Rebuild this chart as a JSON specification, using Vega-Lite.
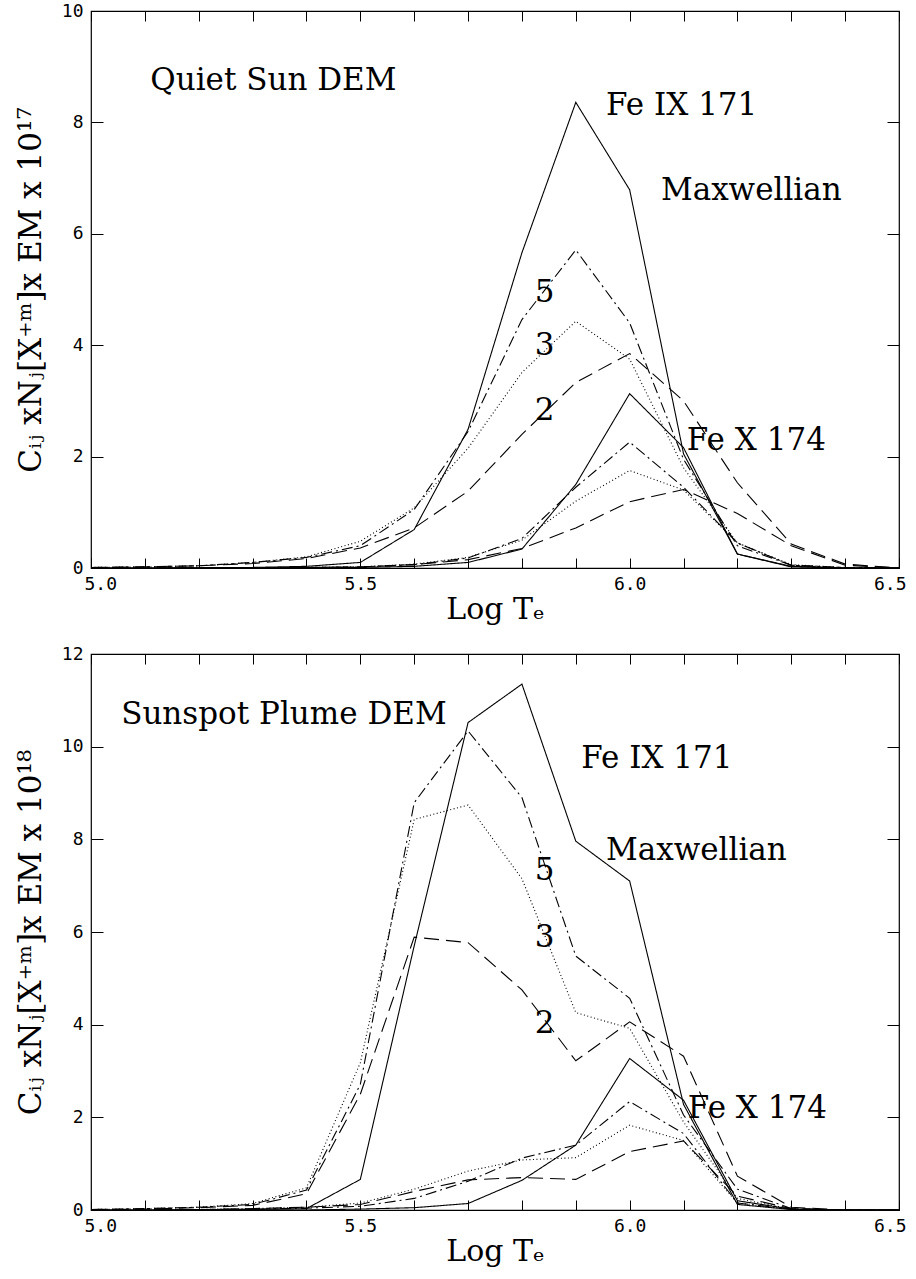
{
  "$schema": "https://vega.github.io/schema/vega-lite/v6.json",
  "background": "white",
  "padding": {"left": 14, "top": 1, "right": 0, "bottom": 5},
  "spacing": 86,
  "bounds": "flush",
  "config": {
    "view": {"stroke": "black", "strokeWidth": 1.2},
    "axis": {
      "domain": false, "grid": false,
      "tickColor": "black", "tickWidth": 1,
      "labelFont": "DejaVu Sans Mono", "labelFontSize": 18, "labelColor": "black",
      "titleFont": "DejaVu Serif", "titleFontWeight": "normal", "titleColor": "black"
    },
    "text": {"font": "DejaVu Serif", "fontSize": 31, "color": "black"}
  },
  "datasets": {
    "quiet": [
      {"ion":"Fe IX","k":"Maxwellian","t":5.0,"v":0},{"ion":"Fe IX","k":"Maxwellian","t":5.1,"v":0},{"ion":"Fe IX","k":"Maxwellian","t":5.2,"v":0.005},{"ion":"Fe IX","k":"Maxwellian","t":5.3,"v":0.01},{"ion":"Fe IX","k":"Maxwellian","t":5.4,"v":0.03},{"ion":"Fe IX","k":"Maxwellian","t":5.5,"v":0.1},{"ion":"Fe IX","k":"Maxwellian","t":5.6,"v":0.69},{"ion":"Fe IX","k":"Maxwellian","t":5.7,"v":2.49},{"ion":"Fe IX","k":"Maxwellian","t":5.8,"v":5.66},{"ion":"Fe IX","k":"Maxwellian","t":5.9,"v":8.36},{"ion":"Fe IX","k":"Maxwellian","t":6.0,"v":6.79},{"ion":"Fe IX","k":"Maxwellian","t":6.1,"v":2.05},{"ion":"Fe IX","k":"Maxwellian","t":6.2,"v":0.25},{"ion":"Fe IX","k":"Maxwellian","t":6.3,"v":0.03},{"ion":"Fe IX","k":"Maxwellian","t":6.4,"v":0},{"ion":"Fe IX","k":"Maxwellian","t":6.5,"v":0},
      {"ion":"Fe IX","k":"5","t":5.0,"v":0.01},{"ion":"Fe IX","k":"5","t":5.1,"v":0.02},{"ion":"Fe IX","k":"5","t":5.2,"v":0.04},{"ion":"Fe IX","k":"5","t":5.3,"v":0.1},{"ion":"Fe IX","k":"5","t":5.4,"v":0.19},{"ion":"Fe IX","k":"5","t":5.5,"v":0.4},{"ion":"Fe IX","k":"5","t":5.6,"v":1.05},{"ion":"Fe IX","k":"5","t":5.7,"v":2.45},{"ion":"Fe IX","k":"5","t":5.8,"v":4.46},{"ion":"Fe IX","k":"5","t":5.9,"v":5.71},{"ion":"Fe IX","k":"5","t":6.0,"v":4.4},{"ion":"Fe IX","k":"5","t":6.1,"v":1.95},{"ion":"Fe IX","k":"5","t":6.2,"v":0.4},{"ion":"Fe IX","k":"5","t":6.3,"v":0.05},{"ion":"Fe IX","k":"5","t":6.4,"v":0.01},{"ion":"Fe IX","k":"5","t":6.5,"v":0},
      {"ion":"Fe IX","k":"3","t":5.0,"v":0.01},{"ion":"Fe IX","k":"3","t":5.1,"v":0.02},{"ion":"Fe IX","k":"3","t":5.2,"v":0.04},{"ion":"Fe IX","k":"3","t":5.3,"v":0.1},{"ion":"Fe IX","k":"3","t":5.4,"v":0.2},{"ion":"Fe IX","k":"3","t":5.5,"v":0.48},{"ion":"Fe IX","k":"3","t":5.6,"v":1.08},{"ion":"Fe IX","k":"3","t":5.7,"v":2.15},{"ion":"Fe IX","k":"3","t":5.8,"v":3.51},{"ion":"Fe IX","k":"3","t":5.9,"v":4.43},{"ion":"Fe IX","k":"3","t":6.0,"v":3.75},{"ion":"Fe IX","k":"3","t":6.1,"v":1.8},{"ion":"Fe IX","k":"3","t":6.2,"v":0.45},{"ion":"Fe IX","k":"3","t":6.3,"v":0.06},{"ion":"Fe IX","k":"3","t":6.4,"v":0.01},{"ion":"Fe IX","k":"3","t":6.5,"v":0},
      {"ion":"Fe IX","k":"2","t":5.0,"v":0.01},{"ion":"Fe IX","k":"2","t":5.1,"v":0.02},{"ion":"Fe IX","k":"2","t":5.2,"v":0.04},{"ion":"Fe IX","k":"2","t":5.3,"v":0.08},{"ion":"Fe IX","k":"2","t":5.4,"v":0.17},{"ion":"Fe IX","k":"2","t":5.5,"v":0.36},{"ion":"Fe IX","k":"2","t":5.6,"v":0.72},{"ion":"Fe IX","k":"2","t":5.7,"v":1.38},{"ion":"Fe IX","k":"2","t":5.8,"v":2.4},{"ion":"Fe IX","k":"2","t":5.9,"v":3.33},{"ion":"Fe IX","k":"2","t":6.0,"v":3.85},{"ion":"Fe IX","k":"2","t":6.1,"v":3.0},{"ion":"Fe IX","k":"2","t":6.2,"v":1.53},{"ion":"Fe IX","k":"2","t":6.3,"v":0.43},{"ion":"Fe IX","k":"2","t":6.4,"v":0.07},{"ion":"Fe IX","k":"2","t":6.5,"v":0},
      {"ion":"Fe X","k":"Maxwellian","t":5.0,"v":0},{"ion":"Fe X","k":"Maxwellian","t":5.1,"v":0},{"ion":"Fe X","k":"Maxwellian","t":5.2,"v":0},{"ion":"Fe X","k":"Maxwellian","t":5.3,"v":0},{"ion":"Fe X","k":"Maxwellian","t":5.4,"v":0},{"ion":"Fe X","k":"Maxwellian","t":5.5,"v":0.01},{"ion":"Fe X","k":"Maxwellian","t":5.6,"v":0.03},{"ion":"Fe X","k":"Maxwellian","t":5.7,"v":0.1},{"ion":"Fe X","k":"Maxwellian","t":5.8,"v":0.34},{"ion":"Fe X","k":"Maxwellian","t":5.9,"v":1.5},{"ion":"Fe X","k":"Maxwellian","t":6.0,"v":3.13},{"ion":"Fe X","k":"Maxwellian","t":6.1,"v":2.16},{"ion":"Fe X","k":"Maxwellian","t":6.2,"v":0.25},{"ion":"Fe X","k":"Maxwellian","t":6.3,"v":0.02},{"ion":"Fe X","k":"Maxwellian","t":6.4,"v":0},{"ion":"Fe X","k":"Maxwellian","t":6.5,"v":0},
      {"ion":"Fe X","k":"5","t":5.0,"v":0},{"ion":"Fe X","k":"5","t":5.1,"v":0},{"ion":"Fe X","k":"5","t":5.2,"v":0},{"ion":"Fe X","k":"5","t":5.3,"v":0},{"ion":"Fe X","k":"5","t":5.4,"v":0.01},{"ion":"Fe X","k":"5","t":5.5,"v":0.02},{"ion":"Fe X","k":"5","t":5.6,"v":0.06},{"ion":"Fe X","k":"5","t":5.7,"v":0.18},{"ion":"Fe X","k":"5","t":5.8,"v":0.53},{"ion":"Fe X","k":"5","t":5.9,"v":1.45},{"ion":"Fe X","k":"5","t":6.0,"v":2.26},{"ion":"Fe X","k":"5","t":6.1,"v":1.45},{"ion":"Fe X","k":"5","t":6.2,"v":0.45},{"ion":"Fe X","k":"5","t":6.3,"v":0.05},{"ion":"Fe X","k":"5","t":6.4,"v":0},{"ion":"Fe X","k":"5","t":6.5,"v":0},
      {"ion":"Fe X","k":"3","t":5.0,"v":0},{"ion":"Fe X","k":"3","t":5.1,"v":0},{"ion":"Fe X","k":"3","t":5.2,"v":0},{"ion":"Fe X","k":"3","t":5.3,"v":0},{"ion":"Fe X","k":"3","t":5.4,"v":0.01},{"ion":"Fe X","k":"3","t":5.5,"v":0.02},{"ion":"Fe X","k":"3","t":5.6,"v":0.07},{"ion":"Fe X","k":"3","t":5.7,"v":0.19},{"ion":"Fe X","k":"3","t":5.8,"v":0.5},{"ion":"Fe X","k":"3","t":5.9,"v":1.2},{"ion":"Fe X","k":"3","t":6.0,"v":1.75},{"ion":"Fe X","k":"3","t":6.1,"v":1.4},{"ion":"Fe X","k":"3","t":6.2,"v":0.45},{"ion":"Fe X","k":"3","t":6.3,"v":0.05},{"ion":"Fe X","k":"3","t":6.4,"v":0},{"ion":"Fe X","k":"3","t":6.5,"v":0},
      {"ion":"Fe X","k":"2","t":5.0,"v":0},{"ion":"Fe X","k":"2","t":5.1,"v":0},{"ion":"Fe X","k":"2","t":5.2,"v":0},{"ion":"Fe X","k":"2","t":5.3,"v":0},{"ion":"Fe X","k":"2","t":5.4,"v":0.01},{"ion":"Fe X","k":"2","t":5.5,"v":0.02},{"ion":"Fe X","k":"2","t":5.6,"v":0.06},{"ion":"Fe X","k":"2","t":5.7,"v":0.15},{"ion":"Fe X","k":"2","t":5.8,"v":0.35},{"ion":"Fe X","k":"2","t":5.9,"v":0.72},{"ion":"Fe X","k":"2","t":6.0,"v":1.19},{"ion":"Fe X","k":"2","t":6.1,"v":1.41},{"ion":"Fe X","k":"2","t":6.2,"v":0.98},{"ion":"Fe X","k":"2","t":6.3,"v":0.4},{"ion":"Fe X","k":"2","t":6.4,"v":0.05},{"ion":"Fe X","k":"2","t":6.5,"v":0}
    ],
    "spot": [
      {"ion":"Fe IX","k":"Maxwellian","t":5.0,"v":0},{"ion":"Fe IX","k":"Maxwellian","t":5.1,"v":0},{"ion":"Fe IX","k":"Maxwellian","t":5.2,"v":0.01},{"ion":"Fe IX","k":"Maxwellian","t":5.3,"v":0.01},{"ion":"Fe IX","k":"Maxwellian","t":5.4,"v":0.03},{"ion":"Fe IX","k":"Maxwellian","t":5.5,"v":0.66},{"ion":"Fe IX","k":"Maxwellian","t":5.6,"v":5.7},{"ion":"Fe IX","k":"Maxwellian","t":5.7,"v":10.52},{"ion":"Fe IX","k":"Maxwellian","t":5.8,"v":11.35},{"ion":"Fe IX","k":"Maxwellian","t":5.9,"v":7.96},{"ion":"Fe IX","k":"Maxwellian","t":6.0,"v":7.1},{"ion":"Fe IX","k":"Maxwellian","t":6.1,"v":2.28},{"ion":"Fe IX","k":"Maxwellian","t":6.2,"v":0.12},{"ion":"Fe IX","k":"Maxwellian","t":6.3,"v":0.01},{"ion":"Fe IX","k":"Maxwellian","t":6.4,"v":0},{"ion":"Fe IX","k":"Maxwellian","t":6.5,"v":0},
      {"ion":"Fe IX","k":"5","t":5.0,"v":0.01},{"ion":"Fe IX","k":"5","t":5.1,"v":0.03},{"ion":"Fe IX","k":"5","t":5.2,"v":0.06},{"ion":"Fe IX","k":"5","t":5.3,"v":0.12},{"ion":"Fe IX","k":"5","t":5.4,"v":0.43},{"ion":"Fe IX","k":"5","t":5.5,"v":2.71},{"ion":"Fe IX","k":"5","t":5.6,"v":8.79},{"ion":"Fe IX","k":"5","t":5.7,"v":10.34},{"ion":"Fe IX","k":"5","t":5.8,"v":8.9},{"ion":"Fe IX","k":"5","t":5.9,"v":5.48},{"ion":"Fe IX","k":"5","t":6.0,"v":4.57},{"ion":"Fe IX","k":"5","t":6.1,"v":2.05},{"ion":"Fe IX","k":"5","t":6.2,"v":0.45},{"ion":"Fe IX","k":"5","t":6.3,"v":0.03},{"ion":"Fe IX","k":"5","t":6.4,"v":0},{"ion":"Fe IX","k":"5","t":6.5,"v":0},
      {"ion":"Fe IX","k":"3","t":5.0,"v":0.01},{"ion":"Fe IX","k":"3","t":5.1,"v":0.03},{"ion":"Fe IX","k":"3","t":5.2,"v":0.06},{"ion":"Fe IX","k":"3","t":5.3,"v":0.14},{"ion":"Fe IX","k":"3","t":5.4,"v":0.48},{"ion":"Fe IX","k":"3","t":5.5,"v":3.18},{"ion":"Fe IX","k":"3","t":5.6,"v":8.43},{"ion":"Fe IX","k":"3","t":5.7,"v":8.74},{"ion":"Fe IX","k":"3","t":5.8,"v":7.15},{"ion":"Fe IX","k":"3","t":5.9,"v":4.26},{"ion":"Fe IX","k":"3","t":6.0,"v":3.92},{"ion":"Fe IX","k":"3","t":6.1,"v":1.9},{"ion":"Fe IX","k":"3","t":6.2,"v":0.25},{"ion":"Fe IX","k":"3","t":6.3,"v":0.02},{"ion":"Fe IX","k":"3","t":6.4,"v":0},{"ion":"Fe IX","k":"3","t":6.5,"v":0},
      {"ion":"Fe IX","k":"2","t":5.0,"v":0.01},{"ion":"Fe IX","k":"2","t":5.1,"v":0.02},{"ion":"Fe IX","k":"2","t":5.2,"v":0.05},{"ion":"Fe IX","k":"2","t":5.3,"v":0.1},{"ion":"Fe IX","k":"2","t":5.4,"v":0.35},{"ion":"Fe IX","k":"2","t":5.5,"v":2.5},{"ion":"Fe IX","k":"2","t":5.6,"v":5.89},{"ion":"Fe IX","k":"2","t":5.7,"v":5.77},{"ion":"Fe IX","k":"2","t":5.8,"v":4.75},{"ion":"Fe IX","k":"2","t":5.9,"v":3.22},{"ion":"Fe IX","k":"2","t":6.0,"v":4.06},{"ion":"Fe IX","k":"2","t":6.1,"v":3.32},{"ion":"Fe IX","k":"2","t":6.2,"v":0.73},{"ion":"Fe IX","k":"2","t":6.3,"v":0.06},{"ion":"Fe IX","k":"2","t":6.4,"v":0},{"ion":"Fe IX","k":"2","t":6.5,"v":0},
      {"ion":"Fe X","k":"Maxwellian","t":5.0,"v":0},{"ion":"Fe X","k":"Maxwellian","t":5.1,"v":0},{"ion":"Fe X","k":"Maxwellian","t":5.2,"v":0},{"ion":"Fe X","k":"Maxwellian","t":5.3,"v":0},{"ion":"Fe X","k":"Maxwellian","t":5.4,"v":0},{"ion":"Fe X","k":"Maxwellian","t":5.5,"v":0.02},{"ion":"Fe X","k":"Maxwellian","t":5.6,"v":0.05},{"ion":"Fe X","k":"Maxwellian","t":5.7,"v":0.14},{"ion":"Fe X","k":"Maxwellian","t":5.8,"v":0.64},{"ion":"Fe X","k":"Maxwellian","t":5.9,"v":1.4},{"ion":"Fe X","k":"Maxwellian","t":6.0,"v":3.27},{"ion":"Fe X","k":"Maxwellian","t":6.1,"v":2.37},{"ion":"Fe X","k":"Maxwellian","t":6.2,"v":0.2},{"ion":"Fe X","k":"Maxwellian","t":6.3,"v":0.02},{"ion":"Fe X","k":"Maxwellian","t":6.4,"v":0},{"ion":"Fe X","k":"Maxwellian","t":6.5,"v":0},
      {"ion":"Fe X","k":"5","t":5.0,"v":0},{"ion":"Fe X","k":"5","t":5.1,"v":0},{"ion":"Fe X","k":"5","t":5.2,"v":0.01},{"ion":"Fe X","k":"5","t":5.3,"v":0.02},{"ion":"Fe X","k":"5","t":5.4,"v":0.04},{"ion":"Fe X","k":"5","t":5.5,"v":0.08},{"ion":"Fe X","k":"5","t":5.6,"v":0.25},{"ion":"Fe X","k":"5","t":5.7,"v":0.62},{"ion":"Fe X","k":"5","t":5.8,"v":1.12},{"ion":"Fe X","k":"5","t":5.9,"v":1.4},{"ion":"Fe X","k":"5","t":6.0,"v":2.34},{"ion":"Fe X","k":"5","t":6.1,"v":1.65},{"ion":"Fe X","k":"5","t":6.2,"v":0.15},{"ion":"Fe X","k":"5","t":6.3,"v":0.02},{"ion":"Fe X","k":"5","t":6.4,"v":0},{"ion":"Fe X","k":"5","t":6.5,"v":0},
      {"ion":"Fe X","k":"3","t":5.0,"v":0},{"ion":"Fe X","k":"3","t":5.1,"v":0},{"ion":"Fe X","k":"3","t":5.2,"v":0.01},{"ion":"Fe X","k":"3","t":5.3,"v":0.03},{"ion":"Fe X","k":"3","t":5.4,"v":0.06},{"ion":"Fe X","k":"3","t":5.5,"v":0.15},{"ion":"Fe X","k":"3","t":5.6,"v":0.45},{"ion":"Fe X","k":"3","t":5.7,"v":0.84},{"ion":"Fe X","k":"3","t":5.8,"v":1.08},{"ion":"Fe X","k":"3","t":5.9,"v":1.13},{"ion":"Fe X","k":"3","t":6.0,"v":1.83},{"ion":"Fe X","k":"3","t":6.1,"v":1.5},{"ion":"Fe X","k":"3","t":6.2,"v":0.15},{"ion":"Fe X","k":"3","t":6.3,"v":0.02},{"ion":"Fe X","k":"3","t":6.4,"v":0},{"ion":"Fe X","k":"3","t":6.5,"v":0},
      {"ion":"Fe X","k":"2","t":5.0,"v":0},{"ion":"Fe X","k":"2","t":5.1,"v":0},{"ion":"Fe X","k":"2","t":5.2,"v":0.01},{"ion":"Fe X","k":"2","t":5.3,"v":0.03},{"ion":"Fe X","k":"2","t":5.4,"v":0.06},{"ion":"Fe X","k":"2","t":5.5,"v":0.12},{"ion":"Fe X","k":"2","t":5.6,"v":0.4},{"ion":"Fe X","k":"2","t":5.7,"v":0.65},{"ion":"Fe X","k":"2","t":5.8,"v":0.7},{"ion":"Fe X","k":"2","t":5.9,"v":0.66},{"ion":"Fe X","k":"2","t":6.0,"v":1.26},{"ion":"Fe X","k":"2","t":6.1,"v":1.49},{"ion":"Fe X","k":"2","t":6.2,"v":0.3},{"ion":"Fe X","k":"2","t":6.3,"v":0.03},{"ion":"Fe X","k":"2","t":6.4,"v":0},{"ion":"Fe X","k":"2","t":6.5,"v":0}
    ],
    "quietLabels": [
      {"label":"Quiet Sun DEM","t":5.11,"v":8.74},
      {"label":"Fe IX 171","t":5.956,"v":8.29},
      {"label":"Maxwellian","t":6.058,"v":6.77},
      {"label":"5","t":5.824,"v":4.94},
      {"label":"3","t":5.824,"v":3.99},
      {"label":"2","t":5.824,"v":2.82},
      {"label":"Fe X 174","t":6.106,"v":2.28}
    ],
    "spotLabels": [
      {"label":"Sunspot Plume DEM","t":5.056,"v":10.68},
      {"label":"Fe IX 171","t":5.91,"v":9.73},
      {"label":"Maxwellian","t":5.956,"v":7.75},
      {"label":"5","t":5.824,"v":7.32},
      {"label":"3","t":5.824,"v":5.87},
      {"label":"2","t":5.824,"v":4.01},
      {"label":"Fe X 174","t":6.108,"v":2.18}
    ]
  },
  "vconcat": [
    {
      "width": 808, "height": 557,
      "resolve": {"axis": {"x": "independent", "y": "independent"}},
      "layer": [
        {
          "data": {"name": "quiet"},
          "mark": {"type": "line", "color": "black", "strokeWidth": 1.1},
          "encoding": {
            "x": {"field": "t", "type": "quantitative", "scale": {"domain": [5.0, 6.5], "nice": false, "zero": false},
                  "axis": {"orient": "bottom", "values": [5.0,5.1,5.2,5.3,5.4,5.5,5.6,5.7,5.8,5.9,6.0,6.1,6.2,6.3,6.4,6.5],
                           "labelExpr": "round(datum.value*10) % 5 == 0 ? format(datum.value, '.1f') : ''",
                           "tickSize": -10, "labelPadding": 17, "labelFlush": true, "labelFlushOffset": 7, "labelOverlap": false,
                           "title": "Log Tₑ", "titleFontSize": 30, "titlePadding": 1}},
            "y": {"field": "v", "type": "quantitative", "scale": {"domain": [0, 10], "nice": false},
                  "axis": {"orient": "left", "values": [0,2,4,6,8,10], "tickSize": -12, "labelPadding": 20,
                           "title": "Cᵢⱼ xNⱼ[X⁺ᵐ]x EM x 10¹⁷", "titleFontSize": 31, "titlePadding": 14}},
            "strokeDash": {"field": "k", "type": "nominal", "legend": null,
                           "scale": {"domain": ["Maxwellian","5","3","2"], "range": [[1,0],[11,4,2,4],[1,2.5],[15,7]]}},
            "detail": {"field": "ion", "type": "nominal"}
          }
        },
        {
          "data": {"name": "quietLabels"},
          "mark": {"type": "text", "align": "left", "baseline": "middle"},
          "encoding": {
            "x": {"field": "t", "type": "quantitative", "axis": {"orient": "top", "values": [5.0,5.1,5.2,5.3,5.4,5.5,5.6,5.7,5.8,5.9,6.0,6.1,6.2,6.3,6.4,6.5], "labels": false, "tickSize": -10, "title": null}},
            "y": {"field": "v", "type": "quantitative", "axis": {"orient": "right", "values": [0,2,4,6,8,10], "labels": false, "tickSize": -12, "title": null}},
            "text": {"field": "label"}
          }
        }
      ]
    },
    {
      "width": 808, "height": 556,
      "resolve": {"axis": {"x": "independent", "y": "independent"}},
      "layer": [
        {
          "data": {"name": "spot"},
          "mark": {"type": "line", "color": "black", "strokeWidth": 1.1},
          "encoding": {
            "x": {"field": "t", "type": "quantitative", "scale": {"domain": [5.0, 6.5], "nice": false, "zero": false},
                  "axis": {"orient": "bottom", "values": [5.0,5.1,5.2,5.3,5.4,5.5,5.6,5.7,5.8,5.9,6.0,6.1,6.2,6.3,6.4,6.5],
                           "labelExpr": "round(datum.value*10) % 5 == 0 ? format(datum.value, '.1f') : ''",
                           "tickSize": -10, "labelPadding": 17, "labelFlush": true, "labelFlushOffset": 7, "labelOverlap": false,
                           "title": "Log Tₑ", "titleFontSize": 30, "titlePadding": 1}},
            "y": {"field": "v", "type": "quantitative", "scale": {"domain": [0, 12], "nice": false},
                  "axis": {"orient": "left", "values": [0,2,4,6,8,10,12], "tickSize": -12, "labelPadding": 20,
                           "title": "Cᵢⱼ xNⱼ[X⁺ᵐ]x EM x 10¹⁸", "titleFontSize": 31, "titlePadding": 14}},
            "strokeDash": {"field": "k", "type": "nominal", "legend": null,
                           "scale": {"domain": ["Maxwellian","5","3","2"], "range": [[1,0],[11,4,2,4],[1,2.5],[15,7]]}},
            "detail": {"field": "ion", "type": "nominal"}
          }
        },
        {
          "data": {"name": "spotLabels"},
          "mark": {"type": "text", "align": "left", "baseline": "middle"},
          "encoding": {
            "x": {"field": "t", "type": "quantitative", "axis": {"orient": "top", "values": [5.0,5.1,5.2,5.3,5.4,5.5,5.6,5.7,5.8,5.9,6.0,6.1,6.2,6.3,6.4,6.5], "labels": false, "tickSize": -10, "title": null}},
            "y": {"field": "v", "type": "quantitative", "axis": {"orient": "right", "values": [0,2,4,6,8,10,12], "labels": false, "tickSize": -12, "title": null}},
            "text": {"field": "label"}
          }
        }
      ]
    }
  ]
}
